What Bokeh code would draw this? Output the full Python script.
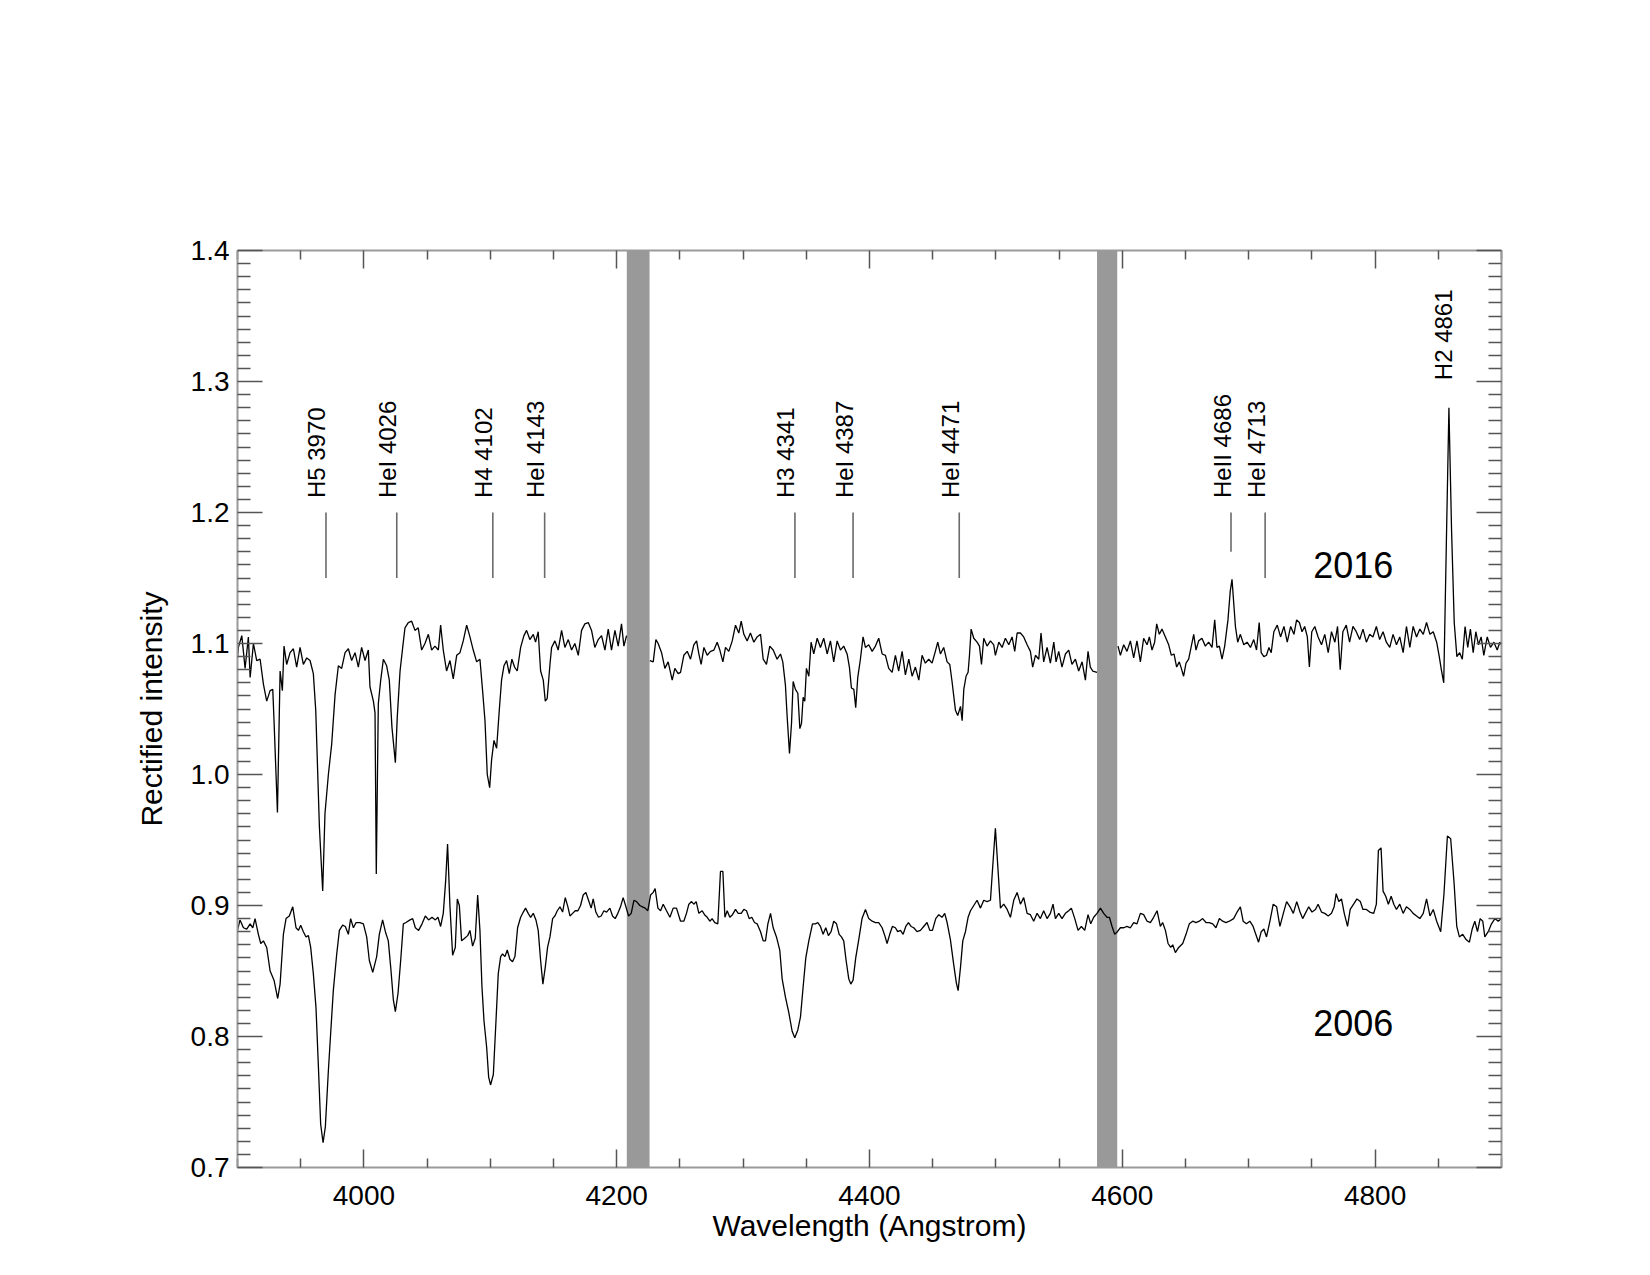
import math
from bokeh.plotting import figure
from bokeh.models import (LinearAxis, FixedTicker, PrintfTickFormatter, BoxAnnotation,
                          Range1d, CustomJSTickFormatter)
from bokeh.core.properties import value
from bokeh.embed import file_html
from bokeh.resources import INLINE

NAN = float("nan")

# ---------------- data ----------------
wl_2016 = [
    3900.0, 3900.7, 3903.4, 3906.0, 3908.6, 3910.0, 3912.6, 3915.2, 3917.9, 3920.5,
    3923.1, 3925.8, 3927.9, 3928.9, 3931.6, 3933.7, 3935.5, 3936.8, 3938.9, 3941.6,
    3944.2, 3946.8, 3949.5, 3952.1, 3954.8, 3957.4, 3960.0, 3961.9, 3964.8, 3967.4,
    3969.2, 3971.9, 3974.5, 3977.2, 3979.8, 3982.4, 3985.1, 3987.7, 3990.3, 3993.0,
    3995.6, 3998.2, 4000.9, 4003.5, 4004.8, 4007.5, 4008.8, 4009.8, 4011.4, 4013.3,
    4015.4, 4018.0, 4020.1, 4022.2, 4024.9, 4026.4, 4028.6, 4030.7, 4032.5, 4035.1,
    4037.8, 4040.4, 4043.0, 4045.7, 4048.3, 4051.0, 4053.6, 4056.2, 4058.9, 4060.7,
    4062.8, 4065.4, 4068.1, 4070.7, 4073.4, 4076.0, 4078.6, 4081.3, 4083.9, 4086.5,
    4089.2, 4091.8, 4093.9, 4095.8, 4097.6, 4099.5, 4101.0, 4102.9, 4105.0, 4107.1,
    4108.9, 4110.8, 4112.9, 4115.0, 4117.1, 4119.2, 4121.3, 4124.0, 4126.6, 4128.7,
    4131.3, 4134.0, 4135.8, 4137.9, 4139.8, 4141.9, 4143.5, 4145.0, 4147.2, 4148.5,
    4151.1, 4153.7, 4156.4, 4159.0, 4161.7, 4164.3, 4166.9, 4169.6, 4172.2, 4174.8,
    4177.5, 4180.1, 4182.7, 4185.4, 4188.0, 4190.7, 4193.3, 4195.9, 4198.6, 4201.2,
    4203.8, 4205.7, 4207.8, 4217.0,
    4226.2, 4228.9, 4231.0, 4232.8, 4235.5, 4238.1, 4240.7, 4243.9, 4246.0, 4248.6,
    4250.5, 4253.1, 4255.8, 4258.4, 4261.0, 4263.2, 4265.0, 4266.8, 4269.0, 4271.6,
    4274.2, 4276.9, 4279.5, 4281.6, 4284.0, 4286.1, 4288.7, 4291.4, 4294.0, 4296.6,
    4298.5, 4300.6, 4303.2, 4305.8, 4308.5, 4311.1, 4313.8, 4315.9, 4318.5, 4321.1,
    4323.8, 4326.9, 4329.6, 4331.4, 4333.5, 4334.8, 4336.7, 4338.3, 4339.6, 4341.4,
    4343.3, 4344.9, 4346.2, 4347.5, 4348.8, 4350.1, 4352.0, 4353.8, 4355.9, 4358.6,
    4361.2, 4363.8, 4366.5, 4369.1, 4371.7, 4374.4, 4377.0, 4379.6, 4382.3, 4384.1,
    4385.7, 4387.6, 4389.1, 4390.7, 4392.8, 4394.9, 4396.8, 4399.4, 4402.1, 4404.7,
    4407.3, 4410.0, 4412.6, 4415.2, 4417.9, 4420.5, 4423.1, 4425.8, 4428.4, 4431.1,
    4433.7, 4436.3, 4439.0, 4441.6, 4444.2, 4446.9, 4449.5, 4452.1, 4454.0, 4456.1,
    4458.7, 4461.4, 4463.5, 4465.3, 4468.0, 4469.8,
    4472.0, 4473.3, 4474.6, 4476.4, 4478.0, 4479.1, 4480.4, 4482.5, 4485.1, 4487.0,
    4488.6, 4490.4, 4493.0, 4495.7, 4498.3, 4499.6, 4502.3, 4504.9, 4507.5, 4510.2,
    4512.8, 4514.9, 4516.8, 4519.4, 4522.0, 4524.7, 4527.3, 4529.1, 4531.3, 4533.9,
    4535.7, 4537.8, 4540.5, 4543.1, 4545.8, 4547.6, 4549.7, 4552.3, 4555.0, 4557.6,
    4560.2, 4562.9, 4565.5, 4568.2, 4570.8, 4572.9, 4574.7, 4576.6, 4580.0, 4588.0,
    4596.6, 4598.5, 4601.1, 4603.7, 4606.4, 4609.0, 4611.6, 4614.3, 4616.9, 4619.6,
    4621.4, 4623.5, 4625.6, 4627.2, 4629.3, 4631.4, 4634.1, 4636.7, 4638.8, 4640.9,
    4643.0, 4645.1, 4646.7, 4648.5, 4650.4, 4652.5, 4654.6, 4656.5, 4658.3, 4660.4,
    4663.0, 4665.7, 4668.3, 4671.0, 4673.1, 4674.9, 4676.8, 4678.9, 4681.0, 4683.6,
    4685.4, 4686.8,
    4689.5, 4691.3, 4693.4, 4696.1, 4698.7, 4701.4, 4704.0, 4706.2, 4708.3, 4709.9,
    4712.0, 4714.1, 4716.0, 4717.8, 4719.9, 4722.6, 4725.2, 4727.9, 4730.5, 4733.2,
    4735.8, 4737.9, 4740.1, 4742.2, 4744.3, 4746.4, 4748.0, 4749.9, 4752.3, 4754.9,
    4757.6, 4760.2, 4762.9, 4765.5, 4768.2, 4770.3, 4772.4, 4774.5, 4777.2, 4779.8,
    4782.5, 4785.1, 4787.8, 4790.4, 4793.1, 4795.7, 4798.3, 4801.0, 4803.6, 4806.3,
    4808.9, 4811.6, 4814.2, 4816.9, 4819.5, 4822.2, 4824.8, 4827.5, 4830.1, 4832.8,
    4835.4, 4838.1, 4840.7, 4843.4, 4846.0, 4848.7, 4850.6, 4852.4, 4854.3, 4856.4,
    4858.4, 4860.5, 4862.6, 4864.7, 4866.9, 4869.0, 4871.2, 4873.3, 4875.4, 4877.6,
    4879.7, 4881.8, 4883.9, 4886.0, 4888.7, 4891.3, 4894.0, 4896.6, 4898.7, 4900.0,
]
flux_2016 = [
    1.089, 1.097, 1.106, 1.081, 1.105, 1.074, 1.100, 1.087, 1.088, 1.069,
    1.056, 1.064, 1.065, 1.041, 0.971, 1.079, 1.064, 1.098, 1.084, 1.093,
    1.096, 1.082, 1.097, 1.084, 1.089, 1.087, 1.077, 1.049, 0.960, 0.911,
    0.970, 1.000, 1.023, 1.061, 1.083, 1.081, 1.093, 1.096, 1.087, 1.093,
    1.082, 1.097, 1.087, 1.095, 1.067, 1.056, 1.047, 0.924, 1.054, 1.072,
    1.088, 1.083, 1.072, 1.036, 1.009, 1.044, 1.079, 1.097, 1.112, 1.116,
    1.117, 1.110, 1.112, 1.095, 1.100, 1.107, 1.095, 1.098, 1.095, 1.114,
    1.095, 1.079, 1.087, 1.073, 1.091, 1.093, 1.102, 1.114, 1.105, 1.095,
    1.086, 1.088, 1.064, 1.041, 1.000, 0.990, 1.011, 1.026, 1.020, 1.049,
    1.072, 1.083, 1.087, 1.077, 1.088, 1.082, 1.079, 1.097, 1.106, 1.110,
    1.103, 1.107, 1.101, 1.109, 1.079, 1.072, 1.056, 1.058, 1.084, 1.097,
    1.102, 1.095, 1.110, 1.097, 1.103, 1.095, 1.100, 1.091, 1.110, 1.115,
    1.116, 1.110, 1.097, 1.103, 1.106, 1.095, 1.111, 1.095, 1.110, 1.098,
    1.115, 1.098, 1.106, NAN,
    1.087, 1.086, 1.103, 1.100, 1.093, 1.081, 1.086, 1.072, 1.081, 1.077,
    1.078, 1.091, 1.094, 1.088, 1.099, 1.102, 1.092, 1.084, 1.097, 1.091,
    1.094, 1.095, 1.101, 1.095, 1.086, 1.097, 1.094, 1.102, 1.114, 1.108,
    1.117, 1.107, 1.102, 1.108, 1.101, 1.105, 1.107, 1.088, 1.084, 1.098,
    1.095, 1.088, 1.092, 1.086, 1.068, 1.045, 1.016, 1.039, 1.071, 1.065,
    1.062, 1.035, 1.039, 1.059, 1.056, 1.081, 1.075, 1.101, 1.092, 1.104,
    1.097, 1.104, 1.092, 1.102, 1.086, 1.102, 1.095, 1.098, 1.092, 1.082,
    1.066, 1.065, 1.051, 1.074, 1.088, 1.105, 1.097, 1.099, 1.094, 1.098,
    1.104, 1.092, 1.091, 1.081, 1.078, 1.091, 1.079, 1.094, 1.076, 1.088,
    1.075, 1.082, 1.072, 1.091, 1.085, 1.088, 1.085, 1.094, 1.101, 1.092,
    1.097, 1.086, 1.084, 1.071, 1.049, 1.045,
    1.052, 1.041, 1.065, 1.075, 1.078, 1.091, 1.111, 1.104, 1.101, 1.098,
    1.084, 1.104, 1.098, 1.102, 1.099, 1.091, 1.101, 1.097, 1.104, 1.099,
    1.105, 1.094, 1.108, 1.108, 1.105, 1.099, 1.094, 1.082, 1.091, 1.088,
    1.108, 1.086, 1.097, 1.085, 1.101, 1.086, 1.094, 1.082, 1.092, 1.095,
    1.084, 1.088, 1.079, 1.086, 1.072, 1.094, 1.082, 1.079, 1.078, NAN,
    1.098, 1.091, 1.099, 1.094, 1.102, 1.089, 1.102, 1.086, 1.104, 1.099,
    1.105, 1.095, 1.101, 1.115, 1.107, 1.111, 1.105, 1.099, 1.091, 1.092,
    1.082, 1.086, 1.081, 1.075, 1.085, 1.088, 1.098, 1.107, 1.095, 1.102,
    1.104, 1.098, 1.101, 1.097, 1.118, 1.097, 1.098, 1.088, 1.098, 1.118,
    1.140, 1.149,
    1.113, 1.101, 1.107, 1.099, 1.101, 1.097, 1.103, 1.095, 1.116, 1.093,
    1.090, 1.091, 1.097, 1.093, 1.109, 1.114, 1.105, 1.113, 1.101, 1.113,
    1.107, 1.118, 1.116, 1.109, 1.113, 1.105, 1.082, 1.109, 1.113, 1.105,
    1.099, 1.107, 1.093, 1.109, 1.101, 1.113, 1.080, 1.109, 1.114, 1.101,
    1.113, 1.109, 1.103, 1.111, 1.101, 1.107, 1.105, 1.113, 1.103, 1.109,
    1.101, 1.097, 1.107, 1.099, 1.105, 1.093, 1.113, 1.097, 1.113, 1.105,
    1.111, 1.107, 1.116, 1.107, 1.109, 1.101, 1.091, 1.080, 1.070, 1.178,
    1.280, 1.186, 1.116, 1.090, 1.093, 1.088, 1.113, 1.097, 1.111, 1.093,
    1.109, 1.099, 1.105, 1.091, 1.105, 1.097, 1.101, 1.095, 1.101, 1.099,
]

wl_2006 = [
    3900.0, 3902.0, 3904.7, 3907.3, 3910.0, 3912.1, 3913.9, 3916.5, 3918.4, 3920.5,
    3923.1, 3925.8, 3928.9, 3931.8, 3933.7, 3936.3, 3938.4, 3941.0, 3943.7, 3946.3,
    3948.2, 3950.0, 3952.1, 3954.2, 3956.1, 3957.9, 3960.0, 3962.1, 3964.0, 3965.8,
    3967.7, 3969.5, 3971.9, 3974.0, 3975.8, 3978.5, 3980.6, 3983.2, 3985.3, 3987.7,
    3989.5, 3991.7, 3993.8, 3996.9, 3999.6, 4002.2, 4004.3, 4007.0, 4010.1, 4012.2,
    4014.8, 4017.0, 4019.3, 4021.2, 4023.3, 4024.9, 4027.0, 4029.1, 4031.2, 4033.3,
    4036.5, 4038.6, 4040.7, 4043.3, 4046.0, 4048.6, 4051.2, 4053.9, 4056.5, 4058.6,
    4060.7, 4062.8, 4064.7, 4066.2, 4068.1, 4070.2, 4072.3, 4073.9, 4075.5, 4077.3,
    4079.7, 4082.1, 4083.9, 4086.0, 4088.1, 4090.0, 4091.8, 4093.4, 4095.0, 4097.1,
    4098.7, 4100.2, 4102.4, 4104.5, 4106.3, 4108.2, 4109.7, 4111.6, 4113.4, 4115.5,
    4117.6, 4119.5, 4121.6, 4124.0, 4126.1, 4127.9, 4130.0, 4131.9, 4134.0, 4136.1,
    4137.9, 4139.8, 4141.6, 4143.5, 4145.3, 4147.2, 4149.3, 4151.1, 4153.0, 4155.1,
    4157.2, 4159.3, 4161.4, 4163.0, 4165.1, 4167.2, 4169.3, 4171.4, 4173.5, 4175.6,
    4177.7, 4179.8, 4181.4, 4183.5, 4185.6, 4187.7, 4189.9, 4192.0, 4194.6, 4196.7,
    4198.8, 4200.9, 4203.0, 4205.1, 4207.3, 4209.4, 4211.5, 4213.6, 4215.7, 4218.3,
    4220.4, 4222.5, 4224.6, 4226.8, 4228.9, 4230.4, 4232.6, 4234.7, 4236.8, 4239.4,
    4242.1, 4244.7, 4247.3,
    4250.5, 4253.1, 4255.2, 4257.1, 4259.2, 4261.0, 4262.9, 4265.0, 4267.6, 4269.5,
    4271.6, 4273.7, 4275.5, 4277.6, 4280.0, 4282.1, 4284.0, 4285.6, 4287.4, 4289.5,
    4291.6, 4294.0, 4296.1, 4298.5, 4300.6, 4302.7, 4304.8, 4306.9, 4309.0, 4311.1,
    4313.8, 4315.9, 4317.7, 4319.6, 4321.7, 4323.8, 4326.4, 4329.0, 4330.9, 4333.5,
    4336.2, 4338.8, 4340.9, 4343.3, 4345.4, 4347.5, 4349.6, 4352.0, 4354.9, 4357.2,
    4359.1, 4361.2, 4363.3, 4365.4, 4367.5, 4369.6, 4371.7, 4373.9, 4376.0, 4377.8,
    4379.6, 4381.5, 4383.6, 4385.2, 4387.0, 4389.1, 4391.5, 4394.1, 4396.8, 4399.4,
    4402.1, 4404.7, 4407.3, 4410.0, 4412.1, 4413.9, 4416.0, 4418.1, 4420.5, 4422.3,
    4424.5, 4426.6, 4428.7, 4430.8, 4432.9, 4435.0, 4437.6, 4440.3, 4442.9, 4445.5,
    4447.7, 4449.8, 4452.4, 4454.8, 4457.4, 4459.5, 4461.4, 4464.0, 4466.6, 4468.7,
    4470.1,
    4472.0, 4473.8, 4475.9, 4478.0, 4479.9, 4482.5, 4485.1, 4487.8, 4490.4, 4493.0,
    4495.7, 4497.5, 4499.6, 4501.5, 4503.6, 4506.2, 4508.9, 4511.5, 4514.1, 4516.8,
    4519.4, 4522.0, 4524.7, 4527.3, 4529.9, 4532.6, 4535.2, 4537.8, 4540.5, 4543.1,
    4545.2, 4547.1, 4549.7, 4552.3, 4555.0, 4557.6, 4559.7, 4562.4, 4565.0, 4567.6,
    4570.3, 4572.9, 4575.0, 4577.4, 4580.0, 4582.7, 4585.3, 4587.9, 4589.8, 4591.9,
    4594.0, 4596.1, 4598.5, 4601.1, 4603.7, 4606.4, 4609.0, 4611.6, 4614.3, 4616.9,
    4619.6, 4622.2, 4624.8, 4627.5, 4630.1, 4631.9, 4634.1, 4636.2, 4638.3, 4639.9,
    4642.0, 4644.6, 4647.8, 4650.4, 4653.0, 4655.7, 4658.3, 4660.9, 4663.6, 4666.2,
    4668.8, 4671.5, 4674.1, 4676.8, 4679.4, 4682.0, 4684.7,
    4688.1, 4690.8, 4693.4, 4695.6, 4698.2, 4700.9, 4703.5, 4705.6, 4707.8, 4709.9,
    4712.0, 4714.1, 4716.8, 4719.4, 4722.1, 4724.7, 4727.4, 4730.0, 4732.7, 4735.3,
    4738.0, 4740.6, 4742.7, 4744.8, 4747.5, 4750.1, 4752.8, 4754.9, 4757.6, 4760.2,
    4762.9, 4765.5, 4767.6, 4769.2, 4771.3, 4773.4, 4775.6, 4778.2, 4780.3, 4783.0,
    4785.6, 4788.3, 4790.4, 4793.1, 4795.7, 4798.9, 4801.0, 4802.6, 4804.7, 4806.3,
    4808.4, 4810.5, 4812.7, 4814.8, 4816.9, 4819.5, 4822.2, 4824.8, 4827.5, 4830.1,
    4832.8, 4835.4, 4838.1, 4840.7, 4843.4, 4846.0, 4848.7, 4851.9, 4854.5, 4857.2,
    4859.8, 4862.5, 4864.6, 4866.7, 4869.3, 4872.0, 4874.6, 4876.8, 4878.9, 4881.0,
    4883.1, 4885.2, 4886.8, 4889.5, 4892.1, 4894.8, 4897.4, 4900.0,
]
flux_2006 = [
    0.881, 0.889, 0.883, 0.882, 0.886, 0.883, 0.890, 0.878, 0.871, 0.873,
    0.868, 0.850, 0.843, 0.829, 0.840, 0.878, 0.890, 0.892, 0.899, 0.883,
    0.881, 0.885, 0.880, 0.876, 0.877, 0.868, 0.848, 0.822, 0.777, 0.733,
    0.719, 0.731, 0.774, 0.807, 0.835, 0.863, 0.881, 0.885, 0.884, 0.878,
    0.890, 0.883, 0.887, 0.887, 0.886, 0.876, 0.858, 0.849, 0.861, 0.878,
    0.889, 0.880, 0.873, 0.853, 0.828, 0.819, 0.833, 0.858, 0.886, 0.887,
    0.889, 0.890, 0.883, 0.881, 0.886, 0.892, 0.889, 0.891, 0.889, 0.891,
    0.884, 0.894, 0.919, 0.947, 0.899, 0.862, 0.868, 0.905, 0.900, 0.873,
    0.875, 0.877, 0.881, 0.869, 0.875, 0.908, 0.881, 0.838, 0.812, 0.792,
    0.769, 0.763, 0.771, 0.812, 0.848, 0.861, 0.863, 0.861, 0.866, 0.859,
    0.857, 0.861, 0.883, 0.891, 0.895, 0.898, 0.894, 0.891, 0.894, 0.889,
    0.881, 0.858, 0.840, 0.853, 0.868, 0.876, 0.890, 0.892, 0.896, 0.899,
    0.895, 0.906, 0.899, 0.892, 0.894, 0.896, 0.896, 0.900, 0.908, 0.910,
    0.904, 0.898, 0.905, 0.895, 0.891, 0.892, 0.896, 0.895, 0.898, 0.892,
    0.890, 0.894, 0.899, 0.906, 0.899, 0.892, 0.894, 0.904, 0.903, 0.900,
    0.899, 0.898, 0.896, 0.908, 0.910, 0.913, 0.898, 0.896, 0.901, 0.896,
    0.891, 0.898, 0.898,
    0.888, 0.888, 0.894, 0.901, 0.903, 0.901, 0.903, 0.894, 0.896, 0.893,
    0.891, 0.888, 0.890, 0.887, 0.886, 0.926, 0.926, 0.891, 0.896, 0.891,
    0.893, 0.897, 0.894, 0.894, 0.897, 0.896, 0.890, 0.891, 0.887, 0.886,
    0.880, 0.873, 0.873, 0.886, 0.894, 0.883, 0.876, 0.866, 0.844, 0.830,
    0.818, 0.804, 0.799, 0.805, 0.815, 0.838, 0.860, 0.873, 0.886, 0.886,
    0.887, 0.884, 0.878, 0.883, 0.877, 0.880, 0.888, 0.886, 0.878, 0.876,
    0.873, 0.858, 0.844, 0.840, 0.843, 0.860, 0.874, 0.890, 0.897, 0.890,
    0.888, 0.887, 0.887, 0.883, 0.877, 0.871, 0.878, 0.884, 0.883, 0.880,
    0.881, 0.878, 0.884, 0.887, 0.884, 0.883, 0.880, 0.881, 0.884, 0.887,
    0.881, 0.881, 0.890, 0.893, 0.891, 0.894, 0.887, 0.874, 0.855, 0.841,
    0.835,
    0.853, 0.873, 0.880, 0.891, 0.896, 0.900, 0.904, 0.898, 0.904, 0.903,
    0.904, 0.930, 0.959, 0.930, 0.898, 0.901, 0.897, 0.891, 0.904, 0.910,
    0.901, 0.906, 0.894, 0.893, 0.888, 0.894, 0.890, 0.896, 0.890, 0.894,
    0.901, 0.890, 0.894, 0.890, 0.894, 0.896, 0.898, 0.890, 0.881, 0.884,
    0.881, 0.893, 0.886, 0.891, 0.894, 0.898, 0.894, 0.891, 0.891, 0.884,
    0.878, 0.880, 0.883, 0.883, 0.884, 0.883, 0.887, 0.886, 0.894, 0.893,
    0.888, 0.887, 0.891, 0.896, 0.884, 0.887, 0.881, 0.871, 0.868, 0.870,
    0.864, 0.868, 0.871, 0.878, 0.886, 0.888, 0.887, 0.888, 0.890, 0.887,
    0.887, 0.886, 0.883, 0.890, 0.888, 0.887, 0.888,
    0.890, 0.895, 0.899, 0.888, 0.886, 0.888, 0.884, 0.878, 0.872, 0.880,
    0.882, 0.876, 0.888, 0.901, 0.899, 0.884, 0.894, 0.903, 0.899, 0.894,
    0.903, 0.895, 0.890, 0.894, 0.899, 0.895, 0.897, 0.901, 0.895, 0.894,
    0.892, 0.894, 0.899, 0.909, 0.903, 0.905, 0.894, 0.884, 0.897, 0.901,
    0.905, 0.903, 0.897, 0.897, 0.895, 0.894, 0.901, 0.942, 0.944, 0.911,
    0.907, 0.901, 0.907, 0.901, 0.897, 0.901, 0.894, 0.899, 0.897, 0.894,
    0.892, 0.890, 0.894, 0.905, 0.892, 0.897, 0.888, 0.880, 0.909, 0.953,
    0.951, 0.917, 0.884, 0.876, 0.878, 0.874, 0.872, 0.882, 0.888, 0.880,
    0.890, 0.888, 0.876, 0.880, 0.886, 0.890, 0.888, 0.890,
]

# masked wavelength intervals (grey bands)
band_left = [4208.0, 4580.0]
band_right = [4226.0, 4596.0]

# spectral line identifications
line_names = ["H5 3970", "HeI 4026", "H4 4102", "HeI 4143", "H3 4341",
              "HeI 4387", "HeI 4471", "HeII 4686", "HeI 4713", "H2 4861"]
line_wl = [3970, 4026, 4102, 4143, 4341, 4387, 4471, 4686, 4713, 4861]
label_y = [1.211, 1.211, 1.211, 1.211, 1.211, 1.211, 1.211, 1.211, 1.211, 1.301]
marker_wl = [3970, 4026, 4102, 4143, 4341, 4387, 4471, 4686, 4713]
marker_top = [1.20, 1.20, 1.20, 1.20, 1.20, 1.20, 1.20, 1.20, 1.20]
marker_bottom = [1.15, 1.15, 1.15, 1.15, 1.15, 1.15, 1.15, 1.17, 1.15]

year_text = ["2016", "2006"]
year_x = [4751, 4751]
year_y = [1.16, 0.81]

x_major = [4000, 4200, 4400, 4600, 4800]
y_major = [0.7, 0.8, 0.9, 1.0, 1.1, 1.2, 1.3, 1.4]

# ---------------- figure ----------------
FONT = "Liberation Sans"
AX = "#9a9a9a"
TK = "#555555"

p = figure(width=1650, height=1275, x_range=Range1d(3900, 4900), y_range=Range1d(0.7, 1.4),
           output_backend="svg", toolbar_location=None,
           min_border_left=237, min_border_right=149, min_border_top=250, min_border_bottom=108)
p.grid.visible = False
p.outline_line_color = None
p.background_fill_color = "white"
p.border_fill_color = "white"

bottom_axis = p.below[0]
left_axis = p.left[0]

x_minor = [3900 + 50 * i for i in range(21) if (3900 + 50 * i) not in x_major]
y_minor = [round(0.70 + 0.01 * i, 2) for i in range(71)]
y_minor = [v for v in y_minor if round(v * 10) / 10 != v]

blank = CustomJSTickFormatter(code="return ''")
top_axis = LinearAxis(formatter=blank)
right_axis = LinearAxis(formatter=blank)
p.add_layout(top_axis, "above")
p.add_layout(right_axis, "right")

for ax in [bottom_axis, top_axis]:
    ax.ticker = FixedTicker(ticks=x_major, minor_ticks=x_minor)
    ax.major_tick_in = 18
    ax.major_tick_out = 0
    ax.minor_tick_in = 9
    ax.minor_tick_out = 0
for ax in [left_axis, right_axis]:
    ax.ticker = FixedTicker(ticks=y_major, minor_ticks=y_minor)
    ax.major_tick_in = 25
    ax.major_tick_out = 0
    ax.minor_tick_in = 13
    ax.minor_tick_out = 0

for ax in [bottom_axis, top_axis, left_axis, right_axis]:
    ax.axis_line_color = AX
    ax.axis_line_width = 2
    ax.major_tick_line_color = TK
    ax.major_tick_line_width = 1.5
    ax.minor_tick_line_color = TK
    ax.minor_tick_line_width = 1.5
    ax.major_label_text_font = FONT
    ax.major_label_text_font_size = "28px"
    ax.major_label_text_color = "black"
    ax.axis_label_text_font = FONT
    ax.axis_label_text_font_size = "30px"
    ax.axis_label_text_font_style = "normal"
    ax.axis_label_text_color = "black"

top_axis.major_label_standoff = 0
right_axis.major_label_standoff = 0

bottom_axis.formatter = PrintfTickFormatter(format="%d")
left_axis.formatter = PrintfTickFormatter(format="%.1f")
bottom_axis.axis_label = "Wavelength (Angstrom)"
left_axis.axis_label = "Rectified intensity"
bottom_axis.major_label_standoff = 18
bottom_axis.axis_label_standoff = 1
left_axis.major_label_standoff = 8
left_axis.axis_label_standoff = 20

for l, r in zip(band_left, band_right):
    p.add_layout(BoxAnnotation(left=l, right=r, fill_color="#999999", fill_alpha=1.0,
                               line_color=None, level="underlay"))

p.line(wl_2016, flux_2016, line_color="black", line_width=1.3)
p.line(wl_2006, flux_2006, line_color="black", line_width=1.3)

p.segment(x0=marker_wl, y0=marker_bottom, x1=marker_wl, y1=marker_top,
          line_color="#6a6a6a", line_width=1.6)

p.text(x=line_wl, y=label_y, text=line_names, angle=math.pi / 2,
       text_font=value(FONT), text_font_size="24px", text_color="black",
       text_align="left", text_baseline="alphabetic", x_offset=-9)

p.text(x=year_x, y=year_y, text=year_text, text_font=value(FONT), text_font_size="36px",
       text_color="black", text_align="left", text_baseline="alphabetic")

open("out.html", "w").write(file_html(p, INLINE))
